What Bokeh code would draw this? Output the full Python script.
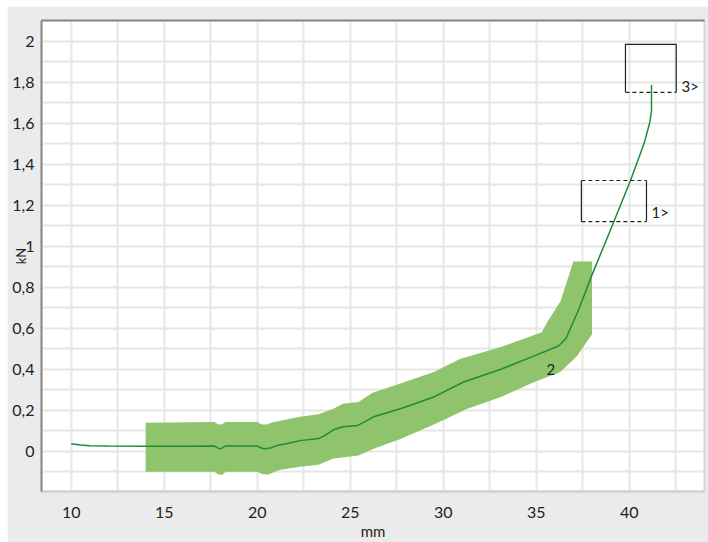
from bokeh.plotting import figure
from bokeh.models import FixedTicker, LinearAxis, Range1d, Spacer
from bokeh.layouts import column, row
from bokeh.embed import file_html
from bokeh.resources import INLINE
from bokeh.core.properties import value

# ---------------- data ----------------
x_ticks = [10, 15, 20, 25, 30, 35, 40]
x_tick_labels = ["10", "15", "20", "25", "30", "35", "40"]
x_minor = [7.5, 12.5, 17.5, 22.5, 27.5, 32.5, 37.5, 42.5]
y_ticks = [0, 0.2, 0.4, 0.6, 0.8, 1.0, 1.2, 1.4, 1.6, 1.8, 2.0]
y_tick_labels = ["0", "0,2", "0,4", "0,6", "0,8", "1", "1,2", "1,4", "1,6", "1,8", "2"]
y_minor = [-0.1, 0.1, 0.3, 0.5, 0.7, 0.9, 1.1, 1.3, 1.5, 1.7, 1.9]

line_x = [10.0, 10.5, 11.0, 12.0, 14.0, 16.0, 17.7, 17.9, 18.05, 18.3, 20.0,
          20.2, 20.4, 20.7, 21.1, 21.5, 22.3, 23.3, 23.6, 24.1, 24.6, 25.4,
          25.8, 26.3, 27.7, 29.5, 31.1, 33.1, 34.9, 36.2, 36.6, 37.28, 38.0,
          39.0, 40.07, 40.8, 41.1, 41.2, 41.2]
line_y = [0.037, 0.031, 0.027, 0.026, 0.025, 0.025, 0.026, 0.014, 0.013, 0.026, 0.026,
          0.016, 0.012, 0.016, 0.029, 0.036, 0.052, 0.062, 0.075, 0.105, 0.12, 0.126,
          0.145, 0.17, 0.207, 0.265, 0.338, 0.40, 0.465, 0.513, 0.55, 0.69, 0.86,
          1.08, 1.32, 1.50, 1.60, 1.66, 1.785]

band_upper_x = [14.0, 17.7, 17.9, 18.1, 18.3, 20.0, 20.25, 20.5, 20.8, 21.3, 22.3,
                23.3, 24.1, 24.6, 25.45, 26.2, 27.7, 29.5, 30.9, 33.1, 35.3, 35.6,
                36.3, 37.0, 38.0]
band_upper_y = [0.139, 0.143, 0.132, 0.130, 0.143, 0.143, 0.131, 0.130, 0.140, 0.150, 0.168,
                0.180, 0.207, 0.232, 0.240, 0.285, 0.330, 0.387, 0.450, 0.508, 0.580, 0.630,
                0.730, 0.925, 0.925]
band_lower_x = [14.0, 17.7, 17.9, 18.1, 18.3, 20.0, 20.3, 20.6, 21.0, 21.25, 22.3,
                23.3, 24.1, 25.45, 26.26, 27.7, 29.5, 31.3, 33.1, 34.9, 36.3, 37.2, 38.0]
band_lower_y = [-0.100, -0.100, -0.112, -0.115, -0.100, -0.100, -0.112, -0.113, -0.097, -0.090, -0.075,
                -0.065, -0.035, -0.020, 0.013, 0.060, 0.130, 0.207, 0.265, 0.338, 0.387, 0.465, 0.570]

box1_x = [37.43, 40.93]
box1_y = [1.12, 1.32]
box3_x = [39.8, 42.53]
box3_y = [1.75, 1.984]

annot_text = ["1>", "2", "3>"]
annot_x = [41.2, 35.55, 42.81]
annot_y = [1.167, 0.40, 1.78]

x_label = "mm"
y_label = "kN"

# ---------------- figure ----------------
FONT = "Lato"
GRID = "#e6e6e6"

p = figure(width=701, height=536, output_backend="svg", toolbar_location=None,
           x_range=Range1d(8.4, 44.05), y_range=Range1d(-0.196, 2.1),
           min_border_left=34, min_border_right=4, min_border_top=14, min_border_bottom=49,
           background_fill_color="white", border_fill_color="#ebebeb",
           outline_line_color="#d6d6d6", outline_line_width=2)

p.xaxis.ticker = FixedTicker(ticks=x_ticks, minor_ticks=x_minor)
p.yaxis.ticker = FixedTicker(ticks=y_ticks, minor_ticks=y_minor)
p.xaxis.major_label_overrides = {t: s for t, s in zip(x_ticks, x_tick_labels)}
p.yaxis.major_label_overrides = {t: s for t, s in zip(y_ticks, y_tick_labels)}

for ax in (p.xaxis, p.yaxis):
    ax.major_tick_line_color = None
    ax.minor_tick_line_color = None
    ax.major_label_text_font = FONT
    ax.major_label_text_font_size = "16px"
    ax.major_label_text_color = "#222222"

p.yaxis.axis_line_color = "#8a8a8a"
p.yaxis.axis_line_width = 2
p.yaxis.major_label_standoff = 1
p.yaxis.axis_label = y_label
p.yaxis.axis_label_text_font = FONT
p.yaxis.axis_label_text_font_size = "13px"
p.yaxis.axis_label_text_font_style = "normal"
p.yaxis.axis_label_text_color = "#222222"
p.yaxis.axis_label_standoff = -20

p.xaxis.axis_line_color = "#d0d0d0"
p.xaxis.axis_line_width = 2
p.xaxis.major_label_standoff = 9
p.xaxis.axis_label = x_label
p.xaxis.axis_label_text_font = FONT
p.xaxis.axis_label_text_font_size = "15px"
p.xaxis.axis_label_text_font_style = "normal"
p.xaxis.axis_label_text_color = "#222222"
p.xaxis.axis_label_standoff = 1

top_axis = LinearAxis(ticker=FixedTicker(ticks=[]), axis_line_color="#8a8a8a",
                      axis_line_width=2, major_tick_line_color=None,
                      minor_tick_line_color=None, major_label_text_font_size="0px")
p.add_layout(top_axis, "above")

for g in (p.xgrid, p.ygrid):
    g.grid_line_color = GRID
    g.grid_line_width = 2
    g.minor_grid_line_color = GRID
    g.minor_grid_line_width = 2

# band
p.patch(band_upper_x + band_lower_x[::-1], band_upper_y + band_lower_y[::-1],
        fill_color="#8fc46c", line_color=None)

# line
p.line(line_x, line_y, line_color="#1e8a3c", line_width=1.5)

# boxes
BOX = "#222222"
p.multi_line([[box1_x[0], box1_x[0]], [box1_x[1], box1_x[1]]],
             [[box1_y[0], box1_y[1]], [box1_y[0], box1_y[1]]], line_color=BOX, line_width=1.2)
p.multi_line([[box1_x[0], box1_x[1]], [box1_x[0], box1_x[1]]],
             [[box1_y[0], box1_y[0]], [box1_y[1], box1_y[1]]], line_color=BOX, line_width=1.2,
             line_dash="4 3")
p.line([box3_x[0], box3_x[0], box3_x[1], box3_x[1]],
       [box3_y[0], box3_y[1], box3_y[1], box3_y[0]], line_color=BOX, line_width=1.2)
p.line([box3_x[0], box3_x[1]], [box3_y[0], box3_y[0]], line_color=BOX, line_width=1.2,
       line_dash="4 3")

p.text(x=annot_x, y=annot_y, text=annot_text, text_font=value(FONT),
       text_font_size="15px", text_color="#222222", text_align="left",
       text_baseline="middle")

layout = column(Spacer(height=6), row(Spacer(width=7), p))

open("out.html", "w").write(file_html(layout, INLINE))
